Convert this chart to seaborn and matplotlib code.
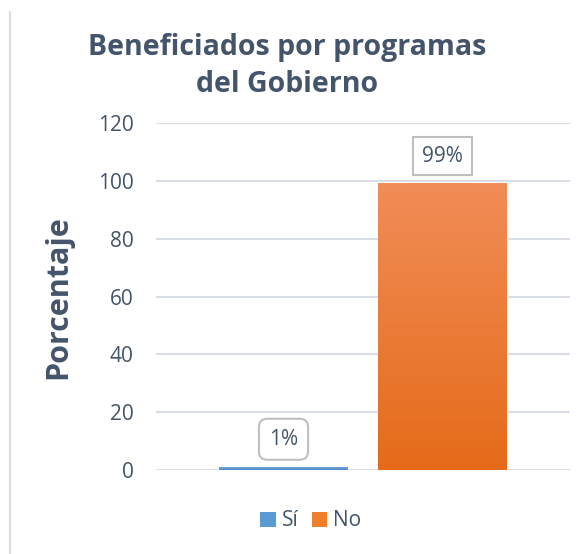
import numpy as np
import pandas as pd
import matplotlib.pyplot as plt
import matplotlib.colors as mcolors
from matplotlib.patches import Patch
from matplotlib.lines import Line2D
import seaborn as sns

# Datos
respuestas = ['Sí', 'No']
porcentajes = [1, 99]
etiquetas = ['1%', '99%']
grupo = ['']

colores = {'Sí': '#5B9BD5', 'No': '#F07F2C'}
degradado = {'Sí': ('#74A9DD', '#4A89C8'), 'No': ('#F18D57', '#E56B19')}
texto = '#44546A'

sns.set_theme(style='white')
plt.rcParams['font.family'] = ['Open Sans', 'DejaVu Sans']

df = pd.DataFrame({'grupo': grupo * len(respuestas),
                   'respuesta': respuestas,
                   'porcentaje': porcentajes})

fig = plt.figure(figsize=(5.87, 5.54), dpi=100)
ax = fig.add_axes([156 / 587, 1 - 470 / 554, 414 / 587, 346.7 / 554])

sns.barplot(data=df, x='grupo', y='porcentaje', hue='respuesta',
            palette=colores, width=0.768, gap=0.19, ax=ax, legend=False,
            zorder=2)

ax.set_ylim(0, 120)
ax.set_xlim(-0.5, 0.5)
ax.set_yticks(range(0, 121, 20))
ax.yaxis.grid(True, color='#D9DEE6', linewidth=1.5, zorder=0)
ax.set_axisbelow(True)
for s in ax.spines.values():
    s.set_visible(False)
ax.set_xticks([])
ax.set_xlabel('')
ax.set_ylabel('')
ax.tick_params(axis='y', length=0, pad=16, labelsize=15, labelcolor=texto)

# degradado vertical en cada barra
barras = [p for p in ax.patches if p.get_height() > 0]
for p, r in zip(barras, respuestas):
    arriba, abajo = [np.array(mcolors.to_rgb(c)) for c in degradado[r]]
    t = np.linspace(0, 1, 100)[:, None, None]
    img = arriba * (1 - t) + abajo * t
    x0, y0, w, h = p.get_x(), p.get_y(), p.get_width(), p.get_height()
    ax.imshow(img, extent=[x0, x0 + w, y0, y0 + h], aspect='auto',
              origin='upper', zorder=3)
ax.set_ylim(0, 120)
ax.set_xlim(-0.5, 0.5)

# etiquetas de datos
estilos = ['round,pad=0.48,rounding_size=0.4', 'square,pad=0.42']
for p, lab, est in zip(barras, etiquetas, estilos):
    ax.annotate(lab, (p.get_x() + p.get_width() / 2, p.get_height()),
                xytext=(0, 12.5), textcoords='offset points',
                ha='center', va='bottom', fontsize=15, color=texto, zorder=5,
                bbox=dict(boxstyle=est, fc='white', ec='#BFBFBF', lw=1.5))

fig.text(287 / 587, 1 - 66 / 554, 'Beneficiados por programas\ndel Gobierno',
         ha='center', va='center', fontsize=20.5, fontweight='bold',
         color=texto, linespacing=1.4)
fig.text(58 / 587, 1 - 297 / 554, 'Porcentaje', rotation=90,
         ha='center', va='center', fontsize=22, fontweight='bold', color=texto)

handles = [Patch(facecolor=colores[r], edgecolor='none') for r in respuestas]
fig.legend(handles, respuestas, loc='center', ncol=2, frameon=False,
           bbox_to_anchor=(311 / 587, 1 - 521 / 554), fontsize=15,
           labelcolor=texto, handlelength=0.75, handleheight=0.75,
           handletextpad=0.3, columnspacing=0.6)

fig.add_artist(Line2D([10 / 587, 10 / 587], [0, 1 - 12 / 554],
                      color='#D9DEE6', lw=1.5, transform=fig.transFigure))

fig.savefig('out.png', dpi=100)
